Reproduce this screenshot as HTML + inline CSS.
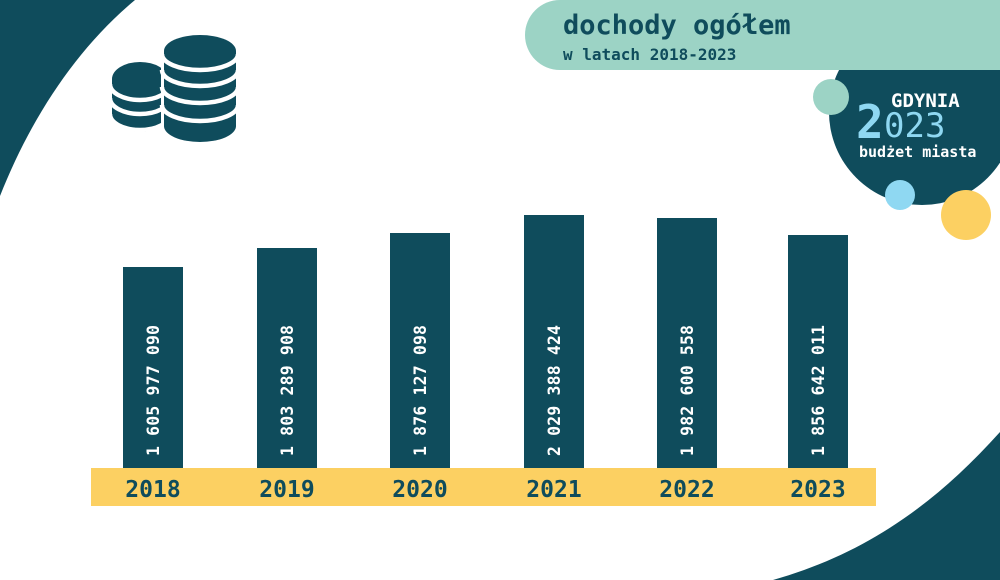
<!DOCTYPE html>
<html><head><meta charset="utf-8"><style>
body{margin:0;width:1000px;height:580px;overflow:hidden;background:#fff}
svg{display:block}
.m{font-family:"DejaVu Sans Mono","Liberation Mono",monospace;font-weight:bold}
</style></head><body>
<svg width="1000" height="580" viewBox="0 0 1000 580">
<rect width="1000" height="580" fill="#0f4c5c"/>
<path d="M135,0 L1000,0 L1000,432 C930,510 860,555 773,580 L0,580 L0,196 C30,120 75,50 135,0 Z" fill="#fff"/>
<circle cx="922" cy="112" r="93" fill="#0f4c5c"/>
<path d="M560,0 L1000,0 L1000,70 L560,70 A35,35 0 0 1 560,0 Z" fill="#9cd3c5"/>
<text x="563" y="34" class="m" font-size="27" fill="#0f4c5c">dochody ogółem</text>
<text x="563" y="60" class="m" font-size="16" fill="#0f4c5c">w latach 2018-2023</text>
<circle cx="831" cy="97" r="18" fill="#9cd3c5"/>
<circle cx="900" cy="195" r="15" fill="#8fd8f2"/>
<circle cx="966" cy="215" r="25" fill="#fcd062"/>
<text x="856" y="138" class="m" font-size="46" fill="#8fd8f2" font-weight="normal">2</text>
<text x="884" y="137" font-family="'DejaVu Sans Mono',monospace" font-size="34" fill="#8fd8f2">023</text>
<text x="891" y="107" class="m" font-size="19" fill="#fff">GDYNIA</text>
<text x="859" y="157" class="m" font-size="15" fill="#fff">budżet miasta</text>
<g>
<path d="M112,79 A28,17 0 0 1 168,79 L168,116 A28,16 0 0 1 112,116 Z" fill="#0f4c5c"/>
<path d="M110,84 A30,16 0 0 0 170,84" fill="none" stroke="#fff" stroke-width="4.5"/>
<path d="M110,98 A30,16 0 0 0 170,98" fill="none" stroke="#fff" stroke-width="4.5"/>
<path d="M110,114 A30,16 0 0 0 170,114" fill="none" stroke="#fff" stroke-width="4.5"/>
</g>
<g>
<path d="M164,51 A36,16 0 0 1 236,51 L236,126 A36,16 0 0 1 164,126 Z" fill="#0f4c5c" stroke="#fff" stroke-width="6"/>
<path d="M164,51 A36,16 0 0 1 236,51 L236,126 A36,16 0 0 1 164,126 Z" fill="#0f4c5c"/>
<path d="M162,54 A38,16 0 0 0 238,54" fill="none" stroke="#fff" stroke-width="4.5"/>
<path d="M162,70 A38,16 0 0 0 238,70" fill="none" stroke="#fff" stroke-width="4.5"/>
<path d="M162,87 A38,16 0 0 0 238,87" fill="none" stroke="#fff" stroke-width="4.5"/>
<path d="M162,105 A38,16 0 0 0 238,105" fill="none" stroke="#fff" stroke-width="4.5"/>
</g>
<rect x="91" y="468" width="785" height="38" fill="#fcd062"/>
<g fill="#0f4c5c">
<rect x="123" y="267" width="60" height="201"/>
<rect x="257" y="248" width="60" height="220"/>
<rect x="390" y="233" width="60" height="235"/>
<rect x="524" y="215" width="60" height="253"/>
<rect x="657" y="218" width="60" height="250"/>
<rect x="788" y="235" width="60" height="233"/>
</g>
<g class="m" font-size="16.5" fill="#fff">
<text transform="translate(159,456) rotate(-90)" textLength="131">1 605 977 090</text>
<text transform="translate(293,456) rotate(-90)" textLength="131">1 803 289 908</text>
<text transform="translate(426,456) rotate(-90)" textLength="131">1 876 127 098</text>
<text transform="translate(560,456) rotate(-90)" textLength="131">2 029 388 424</text>
<text transform="translate(693,456) rotate(-90)" textLength="131">1 982 600 558</text>
<text transform="translate(824,456) rotate(-90)" textLength="131">1 856 642 011</text>
</g>
<g class="m" font-size="23" fill="#0f4c5c" text-anchor="middle">
<text x="153" y="497">2018</text>
<text x="287" y="497">2019</text>
<text x="420" y="497">2020</text>
<text x="554" y="497">2021</text>
<text x="687" y="497">2022</text>
<text x="818" y="497">2023</text>
</g>
</svg>
</body></html>
